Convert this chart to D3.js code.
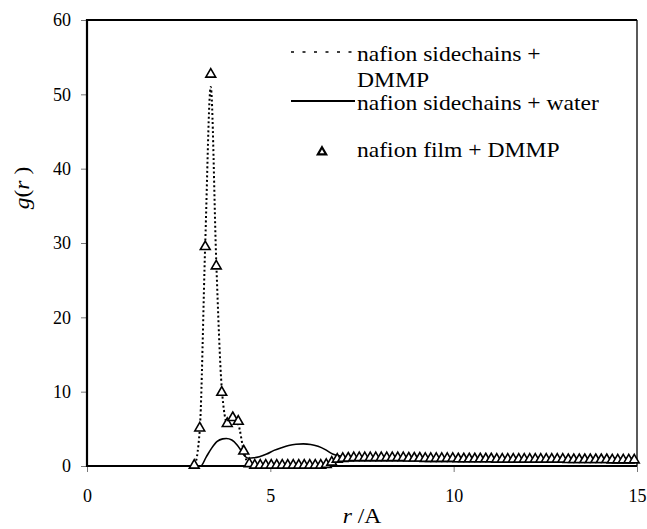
<!DOCTYPE html>
<html><head><meta charset="utf-8">
<script src="https://cdn.jsdelivr.net/npm/d3@7"></script>
<style>
html,body{margin:0;padding:0;background:#fff;}
svg{display:block;}
svg text{font-family:'Liberation Serif','Times New Roman',Times,'Nimbus Roman','DejaVu Serif',serif !important;}
</style></head>
<body>
<svg id="chart" width="647" height="529"></svg>
<script>
// ---------- data ----------
const xTicks = [0, 5, 10, 15];
const yTicks = [0, 10, 20, 30, 40, 50, 60];
const seriesNames = ["nafion sidechains +", "DMMP", "nafion sidechains + water", "nafion film + DMMP"];

// nafion sidechains + DMMP (dotted)
const dotR = [0, 2.775, 2.925, 3.075, 3.225, 3.375, 3.525, 3.675, 3.825, 3.975, 4.125, 4.275, 4.425, 6.375, 6.525, 6.675, 6.825, 6.975, 7.5, 8, 9, 10, 11, 12, 13, 14, 15];
const dotG = [0, 0, 0.1, 4.8, 30, 51, 27.5, 10.5, 5.8, 6.3, 5.6, 2.0, 0.1, 0.1, 0.3, 0.7, 1.0, 1.1, 1.15, 1.15, 1.1, 1.05, 1.0, 1.0, 1.0, 1.0, 1.0];

// nafion sidechains + water (solid)
const solR = [0, 3.1, 3.25, 3.4, 3.55, 3.7, 3.8, 3.95, 4.1, 4.2, 4.3, 4.4, 4.55, 4.7, 4.9, 5.1, 5.3, 5.5, 5.7, 5.9, 6.1, 6.3, 6.5, 6.7, 6.9, 7.1, 7.5, 8, 9, 10, 11, 12, 13, 14, 15];
const solG = [0, 0, 1.2, 2.4, 3.3, 3.65, 3.7, 3.5, 2.8, 2.1, 1.35, 1.05, 1.1, 1.25, 1.6, 2.1, 2.45, 2.75, 2.92, 2.97, 2.9, 2.65, 2.2, 1.6, 1.35, 1.25, 1.2, 1.15, 1.1, 1.05, 1.0, 1.0, 1.0, 1.0, 1.0];

// nafion film + DMMP (triangles)
const triR = [2.925, 3.075, 3.225, 3.375, 3.525, 3.675, 3.825, 3.975, 4.125, 4.275, 4.425, 4.575, 4.725, 4.875, 5.025, 5.175, 5.325, 5.475, 5.625, 5.775, 5.925, 6.075, 6.225, 6.375, 6.525, 6.675, 6.825, 6.975, 7.125, 7.275, 7.425, 7.575, 7.725, 7.875, 8.025, 8.175, 8.325, 8.475, 8.625, 8.775, 8.925, 9.075, 9.225, 9.375, 9.525, 9.675, 9.825, 9.975, 10.125, 10.275, 10.425, 10.575, 10.725, 10.875, 11.025, 11.175, 11.325, 11.475, 11.625, 11.775, 11.925, 12.075, 12.225, 12.375, 12.525, 12.675, 12.825, 12.975, 13.125, 13.275, 13.425, 13.575, 13.725, 13.875, 14.025, 14.175, 14.325, 14.475, 14.625, 14.775, 14.925];
const triG = [0.1, 5.1, 29.5, 52.7, 26.9, 9.9, 5.7, 6.5, 6.0, 2.0, 0.3, 0.1, 0.1, 0.1, 0.1, 0.1, 0.1, 0.1, 0.1, 0.1, 0.1, 0.1, 0.1, 0.1, 0.2, 0.5, 0.9, 1.0, 1.05, 1.1, 1.1, 1.1, 1.1, 1.1, 1.1, 1.1, 1.1, 1.1, 1.1, 1.05, 1.05, 1.05, 1.0, 1.0, 1.0, 1.0, 1.0, 1.0, 0.95, 0.95, 0.95, 0.95, 0.95, 0.95, 0.95, 0.9, 0.9, 0.9, 0.9, 0.9, 0.9, 0.9, 0.9, 0.9, 0.9, 0.9, 0.9, 0.9, 0.85, 0.85, 0.85, 0.85, 0.85, 0.85, 0.85, 0.85, 0.8, 0.8, 0.8, 0.8, 0.8];

// ---------- layout ----------
const svg = d3.select("#chart");
const L = 87, R = 637, T = 20, B = 466;
const x = d3.scaleLinear().domain([0, 15]).range([L, R]);
const y = d3.scaleLinear().domain([0, 60]).range([B, T]);

// axes
const yAxis = d3.axisLeft(y).tickValues(yTicks).tickSize(6).tickPadding(10).tickSizeOuter(0);
const gy = svg.append("g").attr("transform", `translate(${L},0)`).call(yAxis);
gy.attr("font-family", null);
gy.select(".domain").remove();
gy.selectAll("line").attr("stroke", "#777").attr("stroke-width", 1);
gy.selectAll("text").attr("font-size", 18).attr("fill", "#000");

const xAxis = d3.axisBottom(x).tickValues(xTicks).tickSize(6).tickPadding(8).tickSizeOuter(0);
const gx = svg.append("g").attr("transform", `translate(0,${B})`).call(xAxis);
gx.attr("font-family", null);
gx.select(".domain").remove();
gx.selectAll("line").attr("stroke", "#777").attr("stroke-width", 1);
gx.selectAll("text").attr("font-size", 18).attr("fill", "#000").attr("y", 36).attr("dy", 0);

// frame
svg.append("line").attr("x1", x(15)).attr("x2", x(15)).attr("y1", y(60)).attr("y2", y(0)).attr("stroke", "#000").attr("stroke-width", 1.3);
svg.append("line").attr("x1", x(0)).attr("x2", x(15)).attr("y1", y(60)).attr("y2", y(60)).attr("stroke", "#000").attr("stroke-width", 2);
svg.append("line").attr("x1", x(0)).attr("x2", x(0)).attr("y1", y(60) - 1).attr("y2", y(0) + 1).attr("stroke", "#000").attr("stroke-width", 2.2);
svg.append("line").attr("x1", x(0)).attr("x2", x(15)).attr("y1", y(0)).attr("y2", y(0)).attr("stroke", "#000").attr("stroke-width", 2.2);

// series
const solidLine = d3.line().x((d, i) => x(solR[i])).y(d => y(d)).curve(d3.curveMonotoneX);
svg.append("path").attr("d", solidLine(solG)).attr("fill", "none").attr("stroke", "#000").attr("stroke-width", 1.6);

const dotLine = d3.line().x((d, i) => x(dotR[i])).y(d => y(d)).curve(d3.curveMonotoneX);
svg.append("path").attr("d", dotLine(dotG)).attr("fill", "none").attr("stroke", "#000")
  .attr("stroke-width", 2).attr("stroke-dasharray", "2,2.5");

const tri = d3.symbol().type(d3.symbolTriangle).size(42);
svg.append("g").selectAll("path").data(triG).join("path")
  .attr("d", tri)
  .attr("transform", (d, i) => `translate(${x(triR[i])},${y(d)})`)
  .attr("fill", "#fff").attr("stroke", "#000").attr("stroke-width", 1.6);

// legend
const lg = svg.append("g");
lg.append("line").attr("x1", 291).attr("x2", 355).attr("y1", 52).attr("y2", 52)
  .attr("stroke", "#000").attr("stroke-width", 1.6).attr("stroke-dasharray", "3,8.5");
lg.append("line").attr("x1", 291).attr("x2", 355).attr("y1", 101).attr("y2", 101)
  .attr("stroke", "#000").attr("stroke-width", 2);
lg.append("path").attr("d", d3.symbol().type(d3.symbolTriangle).size(30)())
  .attr("transform", "translate(322,152)").attr("fill", "#fff").attr("stroke", "#000").attr("stroke-width", 2.2);
const legText = [[seriesNames[0], 61], [seriesNames[1], 87], [seriesNames[2], 110], [seriesNames[3], 157]];
legText.forEach(([t, by]) => {
  lg.append("text").attr("transform", `translate(357,${by}) scale(1.18,1)`)
    .attr("font-size", 20).attr("fill", "#000").text(t);
});

// axis titles
const xl = svg.append("text").attr("transform", "translate(362,523) scale(1.18,1)")
  .attr("text-anchor", "middle").attr("font-size", 20).attr("fill", "#000");
xl.append("tspan").attr("font-style", "italic").text("r");
xl.append("tspan").text(" /A");

const yl = svg.append("text").attr("transform", "translate(29,188) rotate(-90) scale(1.18,1)")
  .attr("text-anchor", "middle").attr("font-size", 20).attr("fill", "#000");
yl.append("tspan").attr("font-style", "italic").text("g");
yl.append("tspan").text("(");
yl.append("tspan").attr("font-style", "italic").text("r");
yl.append("tspan").text(" )");
</script>
</body></html>
